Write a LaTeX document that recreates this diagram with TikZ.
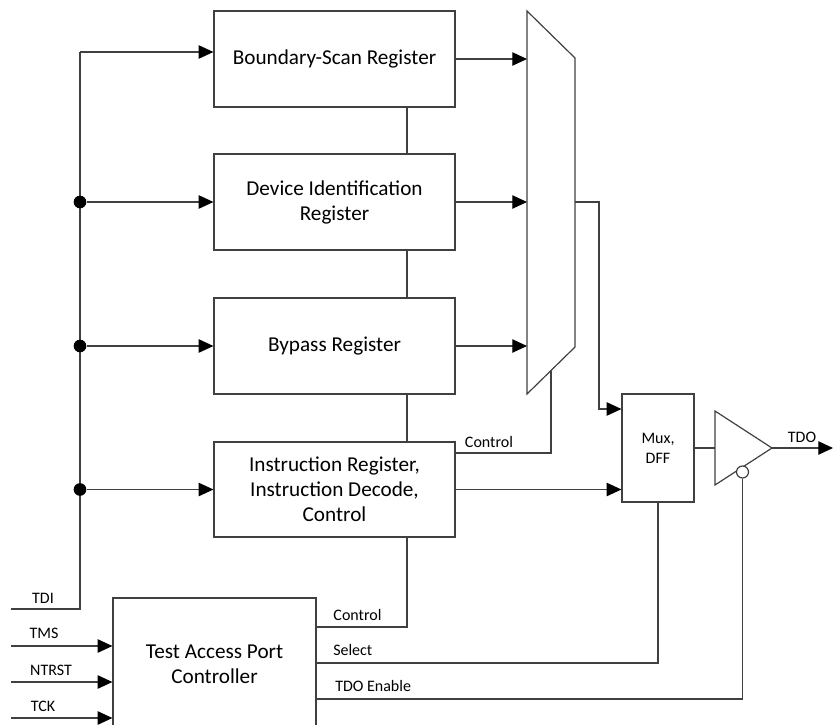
\documentclass[tikz,border=0pt]{standalone}
\usepackage{fontspec}
\setmainfont{Carlito}
\usetikzlibrary{arrows.meta,calc}
\begin{document}
\begin{tikzpicture}[x=0.75pt,y=-0.75pt,
  ln/.style={draw=black!75, line width=0.9pt},
  arr/.style={ln, -{Triangle[length=11pt,width=10pt,color=black]}},
  regbox/.style={draw=black!75, line width=0.9pt, minimum width=180.75pt, minimum height=72pt, inner sep=0pt, align=center, font=\fontsize{15.9}{18.75}\selectfont},
  lbl/.style={font=\fontsize{12}{14}\selectfont, inner sep=0pt},
  dot/.style={circle, fill=black, minimum size=9.5pt, inner sep=0pt}]
\useasboundingbox (0,0) rectangle (833,725);
\clip (0,0) rectangle (833,725);

% registers
\node[regbox] (bsr) at (334.5,59) {Boundary-Scan Register};
\node[regbox] (dev) at (334.5,202) {Device Identification\\Register};
\node[regbox] (byp) at (334.5,346) {Bypass Register};
\node[regbox, minimum height=71.25pt] (ir) at (334.5,489.5) {Instruction Register,\\Instruction Decode,\\Control};
\node[ln, minimum width=54pt, minimum height=81pt, inner sep=0pt, align=center, font=\fontsize{12}{15}\selectfont] (mdff) at (658,448) {Mux,\\DFF};
\node[regbox, minimum width=152.25pt, minimum height=99.75pt] (tap) at (214.5,664.5) {Test Access Port\\Controller};

% multiplexer
\coordinate (m1) at (527,11);
\coordinate (m2) at (575,58);
\coordinate (m3) at (575,347);
\coordinate (m4) at (527,394);
\draw[ln] (m1) -- (m2) -- (m3) -- (m4) -- cycle;
\coordinate (mctl) at ($(m3)!0.5!(m4)$);

% output buffer
\coordinate (b1) at (715,411);
\coordinate (b2) at (772,448);
\coordinate (b3) at (715,485);
\draw[ln] (b1) -- (b2) -- (b3) -- cycle;
\node[ln, circle, minimum size=9pt, inner sep=0pt, fill=white] (bub) at (742.5,472) {};
\coordinate (tdo) at (833,448);
\draw[arr] (b2) -- (tdo);
\node[lbl] (tdolbl) at (802,437) {TDO};
\draw[ln] (mdff.east) -- (mdff.east -| b1);

% TDI bus
\coordinate (tdiin) at (11,609);
\coordinate (buscorner) at (80,609);
\coordinate (bustop) at (80,52);
\draw[ln] (tdiin) -- (buscorner) -- (bustop);
\draw[arr] (bustop) -- (bustop -| bsr.west);
\node[dot] (d1) at (80,202) {};
\node[dot] (d2) at (80,346) {};
\node[dot] (d3) at (80,489.5) {};
\draw[arr] (d1) -- (dev.west);
\draw[arr] (d2) -- (byp.west);
\draw[arr] (d3) -- (ir.west);
\node[lbl] (tdilbl) at (43,598) {TDI};

% register outputs
\coordinate (mL) at (527,0);
\draw[arr] (bsr.east) -- (bsr.east -| mL);
\draw[arr] (dev.east) -- (dev.east -| mL);
\draw[arr] (byp.east) -- (byp.east -| mL);
\draw[arr] (ir.east) -- (ir.east -| mdff.west);

% mux output to Mux/DFF
\coordinate (mo1) at (599,202);
\coordinate (mo2) at (599,409);
\draw[arr] (dev.east -| m2) -- (mo1) -- (mo2) -- (mo2 -| mdff.west);

% vertical links between registers
\coordinate (vx) at (407,0);
\draw[ln] (bsr.south -| vx) -- (dev.north -| vx);
\draw[ln] (dev.south -| vx) -- (byp.north -| vx);
\draw[ln] (byp.south -| vx) -- (ir.north -| vx);
\coordinate (cc) at (407,627);
\draw[ln] (ir.south -| vx) -- (cc) -- (cc -| tap.east);
\node[lbl] (ctl2) at (357.5,615) {Control};

% mux control
\coordinate (mc2) at (551,453);
\draw[ln] (mctl) -- (mctl |- mc2) -- (mc2 -| ir.east);
\node[lbl] (ctl1) at (489,442) {Control};

% select and TDO enable
\coordinate (sel) at (658,663);
\draw[ln] (sel -| tap.east) -- (sel) -- (mdff.south);
\node[lbl, anchor=west] (sellbl) at (333,650) {Select};
\coordinate (en) at (742.5,699);
\draw[ln] (en -| tap.east) -- (en) -- (bub.south);
\node[lbl, anchor=west] (enlbl) at (335,686) {TDO Enable};

% TAP inputs
\coordinate (tms) at (11,646);
\coordinate (ntrst) at (11,682);
\coordinate (tck) at (11,718);
\draw[arr] (tms) -- (tms -| tap.west);
\draw[arr] (ntrst) -- (ntrst -| tap.west);
\draw[arr] (tck) -- (tck -| tap.west);
\node[lbl] (tmslbl) at (44,633) {TMS};
\node[lbl] (ntrstlbl) at (51,670) {NTRST};
\node[lbl] (tcklbl) at (43,706) {TCK};
\end{tikzpicture}
\end{document}
